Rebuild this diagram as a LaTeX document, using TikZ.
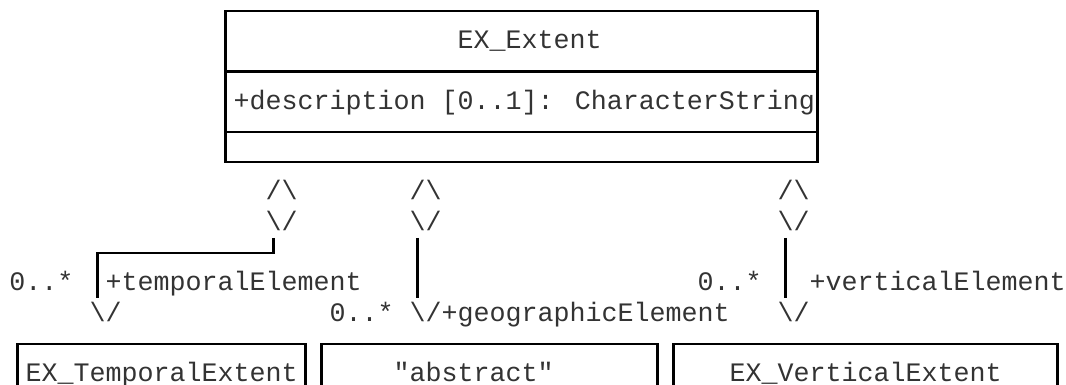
\documentclass[tikz,border=0pt]{standalone}
\usepackage{fontspec}
\newfontfamily\asciifont{Liberation Mono}
\usepackage{tikz}
\usetikzlibrary{arrows.meta}

\newcommand{\diamup}{/\textbackslash}
\newcommand{\diamdown}{\textbackslash/}

\begin{document}
\begin{tikzpicture}[x=12pt,y=-22.6875pt]
		\tikzset{cell/.style={font=\asciifont\fontsize{20pt}{24pt}\selectfont, text=black!80, inner sep=0pt, outer sep=0pt, text height=16.97pt, text depth=5.72pt, anchor=west}}
		\tikzset{frame/.style={line width=1.6pt, black}}
		\clip (-1.09375,-0.36364) rectangle (65.53125,12.36364);
		\draw[frame] (13,0) rectangle (50,5);
		\draw[frame] (13,2) -- (50,2) (13,4) -- (50,4);
		\node[cell] (title) at (27.5,1) {EX\_Extent};
		\node[cell] (attr) at (13.5,3) {+description [0..1]: CharacterString};
		\node[cell] (tdup) at (15.5,6) {\diamup};
		\node[cell] (tdia) at (15.5,7) {\diamdown};
		\node[cell] (gdup) at (24.5,6) {\diamup};
		\node[cell] (gdia) at (24.5,7) {\diamdown};
		\node[cell] (vdup) at (47.5,6) {\diamup};
		\node[cell] (vdia) at (47.5,7) {\diamdown};
		\node[cell] (tmult) at (-0.5,9) {0..*};
		\node[cell] (trole) at (5.5,9) {+temporalElement};
		\node[cell] (vmult) at (42.5,9) {0..*};
		\node[cell] (vrole) at (49.5,9) {+verticalElement};
		\node[cell] (tarr) at (4.5,10) {\diamdown};
		\node[cell] (gmult) at (19.5,10) {0..*};
		\node[cell] (garr) at (24.5,10) {\diamdown};
		\node[cell] (grole) at (26.5,10) {+geographicElement};
		\node[cell] (varr) at (47.5,10) {\diamdown};
		\draw[frame] ([xshift=6pt]tdia.south west) -- ++(0,0.5) -| ([xshift=6pt]tarr.north west);
		\draw[frame] ([xshift=6pt]gdia.south west) -- ([xshift=6pt]garr.north west);
		\draw[frame] ([xshift=6pt]vdia.south west) -- ([xshift=6pt]varr.north west);
		\draw[frame] (0,13) |- (18,11) -- (18,13);
		\draw[frame] (19,13) |- (40,11) -- (40,13);
		\draw[frame] (41,13) |- (65,11) -- (65,13);
		\node[cell] (temp) at (0.5,12) {EX\_TemporalExtent};
		\node[cell] (abst) at (23.5,12) {"abstract"};
		\node[cell] (vert) at (44.5,12) {EX\_VerticalExtent};
\end{tikzpicture}
\end{document}
